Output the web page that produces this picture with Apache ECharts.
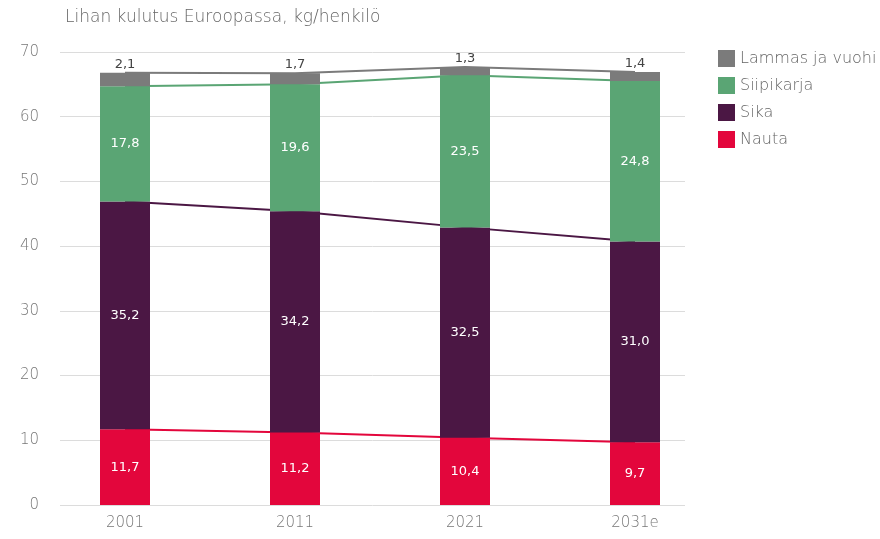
<!DOCTYPE html>
<html>
<head>
<meta charset="utf-8">
<script src="https://cdn.jsdelivr.net/npm/echarts@6/dist/echarts.min.js"></script>
<style>
  html, body { margin: 0; padding: 0; background: #fff; }
  #chart { width: 880px; height: 539px; }
</style>
</head>
<body>
<div id="chart"></div>
<script>
const years = ["2001", "2011", "2021", "2031e"]
const nauta = [11.7, 11.2, 10.4, 9.7]
const sika = [35.2, 34.2, 32.5, 31.0]
const siipikarja = [17.8, 19.6, 23.5, 24.8]
const lammas = [2.1, 1.7, 1.3, 1.4]
const yTicks = { min: 0, max: 70, interval: 10 }

const colors = {
  nauta: "#e3063c",
  sika: "#4b1744",
  siipi: "#5aa574",
  lammas: "#7b7b7b"
}

const font = "'DejaVu Sans', sans-serif"
const fmt = p => p.value.toFixed(1).replace(".", ",")

let chart = echarts.init(document.getElementById("chart"))

const barSeries = (name, data, color, labelPos, labelColor, weight) => ({
  name: name,
  type: "bar",
  stack: "meat",
  xAxisIndex: 1,
  yAxisIndex: 1,
  barWidth: 50,
  data: data,
  z: 3,
  itemStyle: { color: color },
  label: {
    show: true,
    position: labelPos,
    color: labelColor,
    fontFamily: font,
    fontWeight: weight,
    fontSize: 13,
    distance: 2,
    formatter: fmt
  }
})

const lineSeries = (name, data, color) => ({
  name: name,
  type: "line",
  stack: "lines",
  xAxisIndex: 1,
  yAxisIndex: 1,
  data: data,
  symbol: "none",
  z: 2,
  silent: true,
  lineStyle: { color: color, width: 2 }
})

let option = {
  animation: false,
  backgroundColor: "#fff",
  title: {
    text: "Lihan kulutus Euroopassa, kg/henkilö",
    left: 60,
    top: 4,
    textStyle: { color: "#666", fontSize: 17, fontWeight: 200, fontFamily: font }
  },
  legend: {
    orient: "vertical",
    left: 713,
    top: 45,
    icon: "rect",
    itemWidth: 17,
    itemHeight: 17,
    itemGap: 10,
    data: ["Lammas ja vuohi", "Siipikarja", "Sika", "Nauta"],
    textStyle: { color: "#666", fontSize: 16, fontWeight: 200, fontFamily: font }
  },
  grid: [
    { left: 60, right: 195, top: 52, bottom: 34 },
    { left: 40, width: 680, top: 52, bottom: 34 }
  ],
  xAxis: [
    { type: "category", gridIndex: 0, data: years, show: false },
    {
      type: "category",
      gridIndex: 1,
      data: years,
      axisLine: { show: false },
      axisTick: { show: false },
      axisLabel: { color: "#777", fontSize: 15, fontWeight: 200, fontFamily: font, margin: 11 }
    }
  ],
  yAxis: [
    {
      type: "value",
      gridIndex: 0,
      min: yTicks.min,
      max: yTicks.max,
      interval: yTicks.interval,
      axisLine: { show: false },
      axisTick: { show: false },
      axisLabel: { color: "#777", fontSize: 15, fontWeight: 200, fontFamily: font, margin: 21 },
      splitLine: { lineStyle: { color: "#dcdcdc", width: 1 } }
    },
    {
      type: "value",
      gridIndex: 1,
      min: yTicks.min,
      max: yTicks.max,
      interval: yTicks.interval,
      show: false
    }
  ],
  series: [
    barSeries("Nauta", nauta, colors.nauta, "inside", "#fff", "normal"),
    barSeries("Sika", sika, colors.sika, "inside", "#fff", "normal"),
    barSeries("Siipikarja", siipikarja, colors.siipi, "inside", "#fff", "normal"),
    barSeries("Lammas ja vuohi", lammas, colors.lammas, "top", "#444", "normal"),
    lineSeries("l-nauta", nauta, colors.nauta),
    lineSeries("l-sika", sika, colors.sika),
    lineSeries("l-siipi", siipikarja, colors.siipi),
    lineSeries("l-lammas", lammas, colors.lammas)
  ]
}

chart.setOption(option)
</script>
</body>
</html>
